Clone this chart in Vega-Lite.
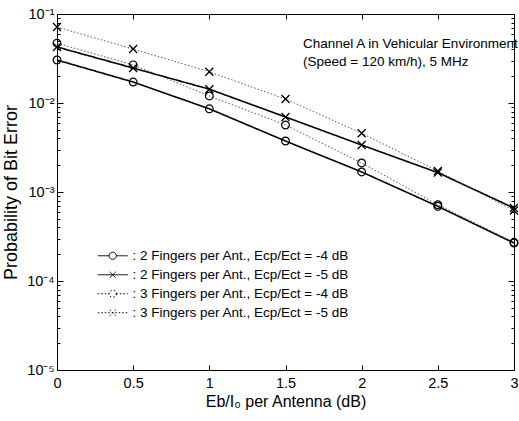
{
  "$schema": "https://vega.github.io/schema/vega-lite/v6.json",
  "width": 457,
  "height": 356,
  "autosize": "none",
  "padding": {"left": 57, "top": 14, "right": 5, "bottom": 51},
  "background": "white",
  "config": {
    "view": {"stroke": "black", "strokeWidth": 1},
    "font": "Liberation Sans",
    "axis": {
      "domainColor": "black", "tickColor": "black", "tickWidth": 1, "labelColor": "black", "titleColor": "black",
      "grid": false, "labelFont": "Liberation Sans", "titleFont": "Liberation Sans", "titleFontWeight": "normal"
    }
  },
  "datasets": {
    "ber": [
      {"snr": 0, "ber": 0.0304, "series": "2 Fingers per Ant., Ecp/Ect = -4 dB"},
      {"snr": 0.5, "ber": 0.0172, "series": "2 Fingers per Ant., Ecp/Ect = -4 dB"},
      {"snr": 1, "ber": 0.0086, "series": "2 Fingers per Ant., Ecp/Ect = -4 dB"},
      {"snr": 1.5, "ber": 0.00374, "series": "2 Fingers per Ant., Ecp/Ect = -4 dB"},
      {"snr": 2, "ber": 0.00168, "series": "2 Fingers per Ant., Ecp/Ect = -4 dB"},
      {"snr": 2.5, "ber": 0.00069, "series": "2 Fingers per Ant., Ecp/Ect = -4 dB"},
      {"snr": 3, "ber": 0.000267, "series": "2 Fingers per Ant., Ecp/Ect = -4 dB"},
      {"snr": 0, "ber": 0.0426, "series": "2 Fingers per Ant., Ecp/Ect = -5 dB"},
      {"snr": 0.5, "ber": 0.0247, "series": "2 Fingers per Ant., Ecp/Ect = -5 dB"},
      {"snr": 1, "ber": 0.0143, "series": "2 Fingers per Ant., Ecp/Ect = -5 dB"},
      {"snr": 1.5, "ber": 0.00697, "series": "2 Fingers per Ant., Ecp/Ect = -5 dB"},
      {"snr": 2, "ber": 0.00337, "series": "2 Fingers per Ant., Ecp/Ect = -5 dB"},
      {"snr": 2.5, "ber": 0.00165, "series": "2 Fingers per Ant., Ecp/Ect = -5 dB"},
      {"snr": 3, "ber": 0.00066, "series": "2 Fingers per Ant., Ecp/Ect = -5 dB"},
      {"snr": 0, "ber": 0.047, "series": "3 Fingers per Ant., Ecp/Ect = -4 dB"},
      {"snr": 0.5, "ber": 0.0268, "series": "3 Fingers per Ant., Ecp/Ect = -4 dB"},
      {"snr": 1, "ber": 0.012, "series": "3 Fingers per Ant., Ecp/Ect = -4 dB"},
      {"snr": 1.5, "ber": 0.00566, "series": "3 Fingers per Ant., Ecp/Ect = -4 dB"},
      {"snr": 2, "ber": 0.00212, "series": "3 Fingers per Ant., Ecp/Ect = -4 dB"},
      {"snr": 2.5, "ber": 0.00072, "series": "3 Fingers per Ant., Ecp/Ect = -4 dB"},
      {"snr": 3, "ber": 0.000272, "series": "3 Fingers per Ant., Ecp/Ect = -4 dB"},
      {"snr": 0, "ber": 0.0714, "series": "3 Fingers per Ant., Ecp/Ect = -5 dB"},
      {"snr": 0.5, "ber": 0.0404, "series": "3 Fingers per Ant., Ecp/Ect = -5 dB"},
      {"snr": 1, "ber": 0.0224, "series": "3 Fingers per Ant., Ecp/Ect = -5 dB"},
      {"snr": 1.5, "ber": 0.0111, "series": "3 Fingers per Ant., Ecp/Ect = -5 dB"},
      {"snr": 2, "ber": 0.00457, "series": "3 Fingers per Ant., Ecp/Ect = -5 dB"},
      {"snr": 2.5, "ber": 0.00172, "series": "3 Fingers per Ant., Ecp/Ect = -5 dB"},
      {"snr": 3, "ber": 0.00062, "series": "3 Fingers per Ant., Ecp/Ect = -5 dB"}
    ]
  },
  "layer": [
    {
      "data": {"name": "ber"},
      "mark": {"type": "line", "color": "black"},
      "encoding": {
        "x": {
          "field": "snr", "type": "quantitative",
          "scale": {"domain": [0, 3], "nice": false, "zero": false},
          "axis": {
            "orient": "bottom", "values": [0, 0.5, 1, 1.5, 2, 2.5, 3], "format": "~g",
            "ticks": false, "labelPadding": 6, "labelFontSize": 14.5, "labelFlush": false,
            "title": "Eb/I₀ per Antenna (dB)", "titleFontSize": 16, "titlePadding": 4
          }
        },
        "y": {
          "field": "ber", "type": "quantitative",
          "scale": {"type": "log", "domain": [0.00001, 0.1], "nice": false},
          "axis": {
            "orient": "left",
            "values": [0.00001, 0.0001, 0.001, 0.01, 0.1],
            "ticks": false,
            "labelExpr": "'10⁻' + ['','¹','²','³','⁴','⁵'][-round(log(datum.value)/LN10)]",
            "labelOverlap": false, "labelFlush": false, "labelPadding": 3, "labelFontSize": 14.5,
            "title": "Probability of Bit Error", "titleFontSize": 18, "titlePadding": 6
          }
        },
        "strokeDash": {
          "field": "series", "type": "nominal",
          "scale": {
            "domain": ["2 Fingers per Ant., Ecp/Ect = -4 dB", "2 Fingers per Ant., Ecp/Ect = -5 dB", "3 Fingers per Ant., Ecp/Ect = -4 dB", "3 Fingers per Ant., Ecp/Ect = -5 dB"],
            "range": [[1, 0], [1, 0], [1.5, 2], [1.5, 2]]
          },
          "legend": {
            "title": null, "orient": "none", "legendX": 49, "legendY": 235,
            "symbolSize": 144, "symbolStrokeWidth": 1, "symbolStrokeColor": "black",
            "labelFontSize": 13.5, "labelFont": "Liberation Sans", "labelColor": "black", "labelOffset": 13,
            "rowPadding": 4, "padding": 0, "labelLimit": 400,
            "labelExpr": "': ' + datum.label",
            "encode": {
              "symbols": {
                "update": {
                  "shape": {"signal": "indexof(datum.value, '-4 dB') >= 0 ? 'M-2.5,0L-0.6,0M0.6,0L2.5,0M0.6,0A0.6,0.6,0,1,1,-0.6,0A0.6,0.6,0,1,1,0.6,0' : 'M-2.5,0L2.5,0M-0.5,-0.5L0.5,0.5M0.5,-0.5L-0.5,0.5'"},
                  "fill": {"value": "transparent"},
                  "stroke": {"value": "black"}
                }
              }
            }
          }
        },
        "strokeWidth": {"condition": {"test": "indexof(datum.series, '2 Fingers') >= 0", "value": 1.6}, "value": 0.9},
        "color": {"condition": {"test": "indexof(datum.series, '2 Fingers') >= 0", "value": "black"}, "value": "#444444"}
      }
    },
    {
      "data": {"name": "ber"},
      "transform": [{"filter": "indexof(datum.series, '-4 dB') >= 0"}],
      "mark": {"type": "point", "shape": "circle", "filled": false, "stroke": "black", "strokeWidth": 1.2, "size": 60, "opacity": 1},
      "encoding": {
        "x": {
          "field": "snr", "type": "quantitative",
          "axis": {"orient": "top", "offset": -356, "values": [0, 0.5, 1, 1.5, 2, 2.5, 3], "tickSize": 5, "labels": false, "title": null, "domain": false}
        },
        "y": {
          "field": "ber", "type": "quantitative",
          "axis": {
            "orient": "right", "offset": -457,
            "values": [0.00001,0.00002,0.00003,0.00004,0.00005,0.00006,0.00007,0.00008,0.00009,0.0001,0.0002,0.0003,0.0004,0.0005,0.0006,0.0007,0.0008,0.0009,0.001,0.002,0.003,0.004,0.005,0.006,0.007,0.008,0.009,0.01,0.02,0.03,0.04,0.05,0.06,0.07,0.08,0.09,0.1],
            "tickSize": {"condition": {"test": "abs(log(datum.value)/LN10 - round(log(datum.value)/LN10)) < 0.001", "value": 6}, "value": 3},
            "labels": false, "title": null, "domain": false
          }
        }
      }
    },
    {
      "data": {"name": "ber"},
      "transform": [{"filter": "indexof(datum.series, '-5 dB') >= 0"}],
      "mark": {"type": "point", "shape": "M-1,-1L1,1M1,-1L-1,1", "filled": false, "stroke": "black", "strokeWidth": 1.3, "size": 64, "opacity": 1},
      "encoding": {
        "x": {
          "field": "snr", "type": "quantitative",
          "axis": {"orient": "bottom", "offset": -356, "values": [0, 0.5, 1, 1.5, 2, 2.5, 3], "tickSize": 5, "labels": false, "title": null, "domain": false}
        },
        "y": {
          "field": "ber", "type": "quantitative",
          "axis": {
            "orient": "left", "offset": -457,
            "values": [0.00001,0.00002,0.00003,0.00004,0.00005,0.00006,0.00007,0.00008,0.00009,0.0001,0.0002,0.0003,0.0004,0.0005,0.0006,0.0007,0.0008,0.0009,0.001,0.002,0.003,0.004,0.005,0.006,0.007,0.008,0.009,0.01,0.02,0.03,0.04,0.05,0.06,0.07,0.08,0.09,0.1],
            "tickSize": {"condition": {"test": "abs(log(datum.value)/LN10 - round(log(datum.value)/LN10)) < 0.001", "value": 6}, "value": 3},
            "labels": false, "title": null, "domain": false
          }
        }
      }
    },
    {
      "data": {"values": [{}]},
      "mark": {"type": "text", "align": "left", "baseline": "middle", "fontSize": 13.5, "font": "Liberation Sans", "color": "black", "lineHeight": 18},
      "encoding": {
        "x": {"datum": 1.615, "type": "quantitative", "axis": null},
        "y": {"datum": 0.046, "type": "quantitative", "axis": null},
        "text": {"value": ["Channel A in Vehicular Environment", "(Speed = 120 km/h), 5 MHz"]}
      }
    }
  ],
  "resolve": {"scale": {"x": "shared", "y": "shared"}, "axis": {"x": "independent", "y": "independent"}}
}
